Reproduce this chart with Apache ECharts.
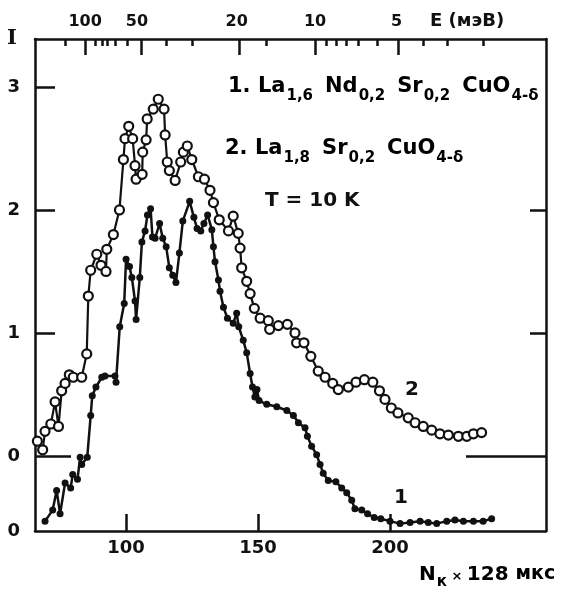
<!DOCTYPE html>
<html>
<head>
<meta charset="utf-8">
<script src="https://cdn.jsdelivr.net/npm/echarts@6/dist/echarts.min.js"></script>
<style>
html,body{margin:0;padding:0;background:#fff;}
#chart{width:563px;height:592px;}
</style>
</head>
<body>
<div id="chart"></div>
<script>
// ---- data ----
// Series 1: La1,6 Nd0,2 Sr0,2 CuO4-δ (filled dots), [channel N, intensity I] measured from the lower zero
const series1 = [
[69.3,0.08],[72.2,0.17],[73.7,0.33],[75.0,0.14],[76.9,0.39],[79.0,0.35],[79.8,0.46],[81.6,0.42],
[82.6,0.60],[83.2,0.54],[85.3,0.60],[86.6,0.94],[87.2,1.10],[88.6,1.17],[90.8,1.25],[92.0,1.26],
[95.8,1.26],[96.2,1.21],[97.6,1.66],[99.3,1.85],[100.0,2.21],[101.3,2.15],[102.2,2.06],[103.4,1.87],
[103.8,1.72],[105.2,2.06],[106.0,2.35],[107.2,2.44],[108.1,2.57],[109.3,2.62],[110.0,2.39],[111.0,2.38],
[112.7,2.50],[113.9,2.38],[115.2,2.31],[116.4,2.14],[117.7,2.08],[118.9,2.02],[120.2,2.26],[121.5,2.52],
[124.1,2.68],[125.7,2.55],[126.9,2.46],[128.3,2.44],[129.5,2.50],[130.9,2.57],[132.5,2.45],[133.1,2.31],
[133.7,2.19],[135.0,2.04],[135.6,1.95],[136.9,1.82],[138.4,1.73],[140.6,1.69],[141.9,1.77],[142.7,1.66],
[144.4,1.55],[145.7,1.45],[147.0,1.28],[147.9,1.17],[148.8,1.09],[149.6,1.15],[150.4,1.06],[153.3,1.03],
[157.1,1.01],[160.9,0.98],[163.4,0.94],[165.3,0.88],[167.8,0.84],[168.7,0.77],[170.3,0.69],[172.2,0.62],
[173.5,0.54],[174.7,0.47],[176.6,0.41],[179.5,0.40],[181.7,0.35],[183.6,0.31],[185.5,0.25],[186.7,0.18],
[189.3,0.17],[191.5,0.14],[194.0,0.11],[196.5,0.10],[200.0,0.08],[203.8,0.06],[207.6,0.07],[211.4,0.08],
[214.5,0.07],[217.7,0.06],[221.5,0.08],[224.6,0.09],[227.8,0.08],[231.6,0.08],[235.3,0.08],[238.5,0.10]
];
// Series 2: La1,8 Sr0,2 CuO4-δ (open circles), [channel N, intensity I] measured from the upper zero
const series2 = [
[66.4,0.12],[68.4,0.05],[69.3,0.20],[71.5,0.26],[73.1,0.44],[74.4,0.24],[75.6,0.53],[76.9,0.59],
[78.5,0.66],[80.0,0.64],[83.2,0.64],[85.1,0.83],[85.7,1.30],[86.6,1.51],[88.9,1.64],[90.5,1.55],
[92.4,1.50],[92.7,1.68],[95.2,1.80],[97.5,2.00],[99.0,2.41],[99.6,2.58],[101.0,2.68],[102.5,2.58],
[103.4,2.36],[103.8,2.25],[106.1,2.29],[106.3,2.47],[107.6,2.57],[108.0,2.74],[110.3,2.82],[112.2,2.90],
[114.4,2.82],[114.8,2.61],[115.6,2.39],[116.4,2.32],[118.6,2.24],[120.7,2.39],[121.7,2.47],[123.2,2.52],
[124.9,2.41],[127.4,2.27],[129.7,2.25],[131.8,2.16],[133.1,2.06],[135.3,1.92],[138.8,1.83],[140.6,1.95],
[142.5,1.81],[143.2,1.69],[143.8,1.53],[145.7,1.42],[147.0,1.32],[148.6,1.20],[150.8,1.12],[153.9,1.10],
[154.4,1.03],[157.7,1.06],[161.1,1.07],[164.0,1.00],[164.6,0.92],[167.4,0.92],[170.0,0.81],[172.8,0.69],
[175.4,0.64],[178.3,0.59],[180.4,0.54],[184.2,0.56],[187.1,0.60],[190.3,0.62],[193.5,0.60],[196.0,0.53],
[198.1,0.46],[200.5,0.39],[203.0,0.35],[206.9,0.31],[209.5,0.27],[212.6,0.24],[215.8,0.21],[218.9,0.18],
[222.1,0.17],[225.9,0.16],[229.1,0.16],[231.6,0.18],[234.7,0.19]
];
// Curve 2 is drawn raised by this amount (its zero sits above curve 1's zero)
const OFFSET2 = 0.61;

// axis ranges and ticks
const X_MIN = 65.5, X_MAX = 259.1;
const Y_MIN = 0, Y_MAX = 4.0;
const bottomTicks = [100, 150, 200];
const yLabelsSeries2 = [0, 1, 2, 3];      // tick labels on curve-2 scale
const yLabelSeries1Zero = [0];            // lower zero (curve 1)
// top energy axis E (мэВ): tick positions expressed in channel units
const topShortTicks = [76.9, 88.3, 90.8, 92.9, 95.8, 100.3, 115.4, 124.9, 153.3, 176.0, 179.8, 183.6, 188.0, 195.0, 212.6, 221.5, 235.3];
const topLongTicks = [84.5, 105.9, 142.9, 171.6, 203.1];
const topLabelPos = [84.5, 104.1, 141.9, 171.6, 202.5];
const topLabelText = ['100', '50', '20', '10', '5'];

const FONT = 'DejaVu Sans';
const BLACK = '#111';

const yLabelValues = yLabelSeries1Zero.concat(yLabelsSeries2.map(v => +(v + OFFSET2).toFixed(4)));
const yMajorTicks = yLabelsSeries2.filter(v => v > 0).map(v => +(v + OFFSET2).toFixed(4));
const yZero2 = [OFFSET2];

const chart = echarts.init(document.getElementById('chart'), null, {renderer: 'canvas'});
const lineStyleAxis = {color: BLACK, width: 2.5};

function nearestLabel(v) {
  let best = 0, d = Infinity;
  topLabelPos.forEach((p, i) => { if (Math.abs(p - v) < d) { d = Math.abs(p - v); best = i; } });
  return topLabelText[best];
}

const mainRich = {
  m: {fontSize: 21, fontWeight: 'bold', fontFamily: FONT, lineHeight: 24, verticalAlign: 'top', color: BLACK},
  s: {fontSize: 15, fontWeight: 'bold', fontFamily: FONT, lineHeight: 18, verticalAlign: 'top', padding: [13, 12, 0, 1], color: BLACK}
};

const option = {
  animation: false,
  backgroundColor: '#fff',
  grid: {left: 35, right: 17, top: 39, bottom: 61, containLabel: false},
  xAxis: [
    {
      type: 'value', position: 'bottom', min: X_MIN, max: X_MAX,
      axisLine: {show: true, onZero: false, lineStyle: lineStyleAxis},
      axisTick: {show: true, inside: true, length: 17, customValues: bottomTicks, lineStyle: lineStyleAxis},
      axisLabel: {customValues: bottomTicks, fontSize: 18, fontWeight: 'bold', color: BLACK, fontFamily: FONT, margin: 8},
      splitLine: {show: false}
    },
    {
      type: 'value', position: 'top', min: X_MIN, max: X_MAX,
      axisLine: {show: true, onZero: false, lineStyle: lineStyleAxis},
      axisTick: {show: true, inside: true, length: 7, customValues: topShortTicks, lineStyle: lineStyleAxis},
      axisLabel: {show: false},
      splitLine: {show: false}
    },
    {
      type: 'value', position: 'top', min: X_MIN, max: X_MAX,
      axisLine: {show: false, onZero: false},
      axisTick: {show: true, inside: true, length: 16, customValues: topLongTicks, lineStyle: lineStyleAxis},
      axisLabel: {customValues: topLabelPos, formatter: v => nearestLabel(v), fontSize: 16, fontWeight: 'bold', color: BLACK, fontFamily: FONT, margin: 9},
      splitLine: {show: false}
    }
  ],
  yAxis: [
    {
      type: 'value', position: 'left', min: Y_MIN, max: Y_MAX,
      axisLine: {show: true, onZero: false, lineStyle: lineStyleAxis},
      axisTick: {show: true, inside: true, length: 20, customValues: yMajorTicks, lineStyle: lineStyleAxis},
      axisLabel: {
        customValues: yLabelValues, fontSize: 18, fontWeight: 'bold', color: BLACK, fontFamily: FONT, margin: 15,
        formatter: v => (Math.abs(v) < 1e-6 ? '0' : String(Math.round(v - OFFSET2)))
      },
      splitLine: {show: false}
    },
    {
      type: 'value', position: 'left', min: Y_MIN, max: Y_MAX,
      axisLine: {show: false, onZero: false},
      axisTick: {show: true, inside: true, length: 36, customValues: yZero2, lineStyle: lineStyleAxis},
      axisLabel: {show: false}, splitLine: {show: false}
    },
    {
      type: 'value', position: 'right', min: Y_MIN, max: Y_MAX,
      axisLine: {show: true, onZero: false, lineStyle: lineStyleAxis},
      axisTick: {show: true, inside: true, length: 16, customValues: yMajorTicks.slice(0, 2), lineStyle: lineStyleAxis},
      axisLabel: {show: false}, splitLine: {show: false}
    },
    {
      type: 'value', position: 'right', min: Y_MIN, max: Y_MAX,
      axisLine: {show: false, onZero: false},
      axisTick: {show: true, inside: true, length: 80, customValues: yZero2, lineStyle: lineStyleAxis},
      axisLabel: {show: false}, splitLine: {show: false}
    }
  ],
  series: [
    {
      name: '1', type: 'line', xAxisIndex: 0, yAxisIndex: 0,
      data: series1,
      symbol: 'circle', symbolSize: 7,
      itemStyle: {color: BLACK, borderColor: BLACK, borderWidth: 0},
      lineStyle: {color: BLACK, width: 2.5},
      z: 3
    },
    {
      name: '2', type: 'line', xAxisIndex: 0, yAxisIndex: 0,
      data: series2.map(p => [p[0], p[1] + OFFSET2]),
      symbol: 'circle', symbolSize: 9,
      itemStyle: {color: '#fff', borderColor: BLACK, borderWidth: 2.2},
      lineStyle: {color: BLACK, width: 2.2},
      z: 4
    }
  ],
  graphic: [
    {type: 'text', left: 7, top: 28, style: {text: 'I', font: 'bold 21px "DejaVu Serif"', fill: BLACK}},
    {type: 'text', left: 430, top: 12, style: {text: 'E (мэВ)', font: 'bold 18px "DejaVu Sans"', fill: BLACK}},
    {
      type: 'text', left: 228, top: 76,
      style: {text: '{m|1. La}{s|1,6}{m|Nd}{s|0,2}{m|Sr}{s|0,2}{m|CuO}{s|4-δ}', rich: mainRich}
    },
    {
      type: 'text', left: 225, top: 138,
      style: {text: '{m|2. La}{s|1,8}{m|Sr}{s|0,2}{m|CuO}{s|4-δ}', rich: mainRich}
    },
    {type: 'text', left: 265, top: 191, style: {text: 'T = 10 K', font: 'bold 20px "DejaVu Sans"', fill: BLACK}},
    {type: 'text', left: 405, top: 380, style: {text: '2', font: 'bold 20px "DejaVu Sans"', fill: BLACK}},
    {type: 'text', left: 394, top: 488, style: {text: '1', font: 'bold 20px "DejaVu Sans"', fill: BLACK}},
    {
      type: 'text', left: 419, top: 565,
      style: {
        text: '{m|N}{s|к}{x| × }{m|128 }{c|мкс}',
        rich: {
          m: {fontSize: 20, fontWeight: 'bold', fontFamily: FONT, lineHeight: 22, verticalAlign: 'top', color: BLACK},
          s: {fontSize: 15, fontWeight: 'bold', fontFamily: FONT, lineHeight: 16, verticalAlign: 'top', padding: [10, 0, 0, 1], color: BLACK},
          x: {fontSize: 13, fontWeight: 'bold', fontFamily: FONT, lineHeight: 16, verticalAlign: 'top', padding: [5, 0, 0, 0], color: BLACK},
          c: {fontSize: 19, fontWeight: 'bold', fontFamily: FONT, lineHeight: 22, verticalAlign: 'top', color: BLACK}
        }
      }
    }
  ]
};
chart.setOption(option);
</script>
</body>
</html>
